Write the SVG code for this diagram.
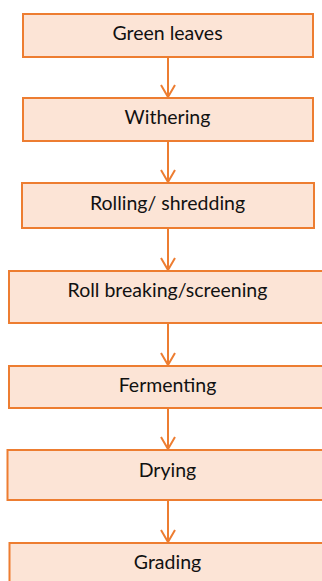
<svg xmlns="http://www.w3.org/2000/svg" width="322" height="581" viewBox="0 0 322 581">
  <style>
    .box { fill: #FCE4D6; stroke: #ED7D31; stroke-width: 2; }
    .label { font-family: "Lato", "Liberation Sans", sans-serif; font-size: 19.5px; fill: #111111; text-anchor: middle; }
    .flow { fill: none; stroke: #ED7D31; stroke-width: 2; }
  </style>
  <defs>
    <marker id="head" viewBox="0 0 16 16" markerWidth="16" markerHeight="16" refX="14" refY="8" orient="auto" markerUnits="userSpaceOnUse">
      <path d="M2,1 L14,8 L2,15" fill="none" stroke="#ED7D31" stroke-width="2"/>
    </marker>
  </defs>

  <rect width="322" height="581" fill="#FFFFFF"/>

  <g id="connectors">
    <line class="flow" x1="168" y1="57" x2="168" y2="97" marker-end="url(#head)"/>
    <line class="flow" x1="168" y1="141" x2="168" y2="182" marker-end="url(#head)"/>
    <line class="flow" x1="168" y1="228" x2="168" y2="270" marker-end="url(#head)"/>
    <line class="flow" x1="168" y1="323" x2="168" y2="365" marker-end="url(#head)"/>
    <line class="flow" x1="168" y1="408" x2="168" y2="449" marker-end="url(#head)"/>
    <line class="flow" x1="168" y1="500" x2="168" y2="542" marker-end="url(#head)"/>
  </g>

  <g id="green-leaves">
    <rect class="box" x="23" y="14" width="290" height="43"/>
    <text class="label" x="167.5" y="40">Green leaves</text>
  </g>
  <g id="withering">
    <rect class="box" x="23" y="98" width="290" height="43"/>
    <text class="label" x="167.5" y="124">Withering</text>
  </g>
  <g id="rolling">
    <rect class="box" x="22" y="183" width="292" height="45"/>
    <text class="label" x="167.5" y="210">Rolling/ shredding</text>
  </g>
  <g id="roll-breaking">
    <rect class="box" x="9" y="271" width="320" height="52"/>
    <text class="label" x="167.5" y="297">Roll breaking/screening</text>
  </g>
  <g id="fermenting">
    <rect class="box" x="9" y="366" width="320" height="42"/>
    <text class="label" x="167.5" y="392">Fermenting</text>
  </g>
  <g id="drying">
    <rect class="box" x="7.5" y="450" width="320" height="50"/>
    <text class="label" x="167.5" y="477">Drying</text>
  </g>
  <g id="grading">
    <rect class="box" x="9.5" y="543" width="320" height="50"/>
    <text class="label" x="167.5" y="569">Grading</text>
  </g>
</svg>
